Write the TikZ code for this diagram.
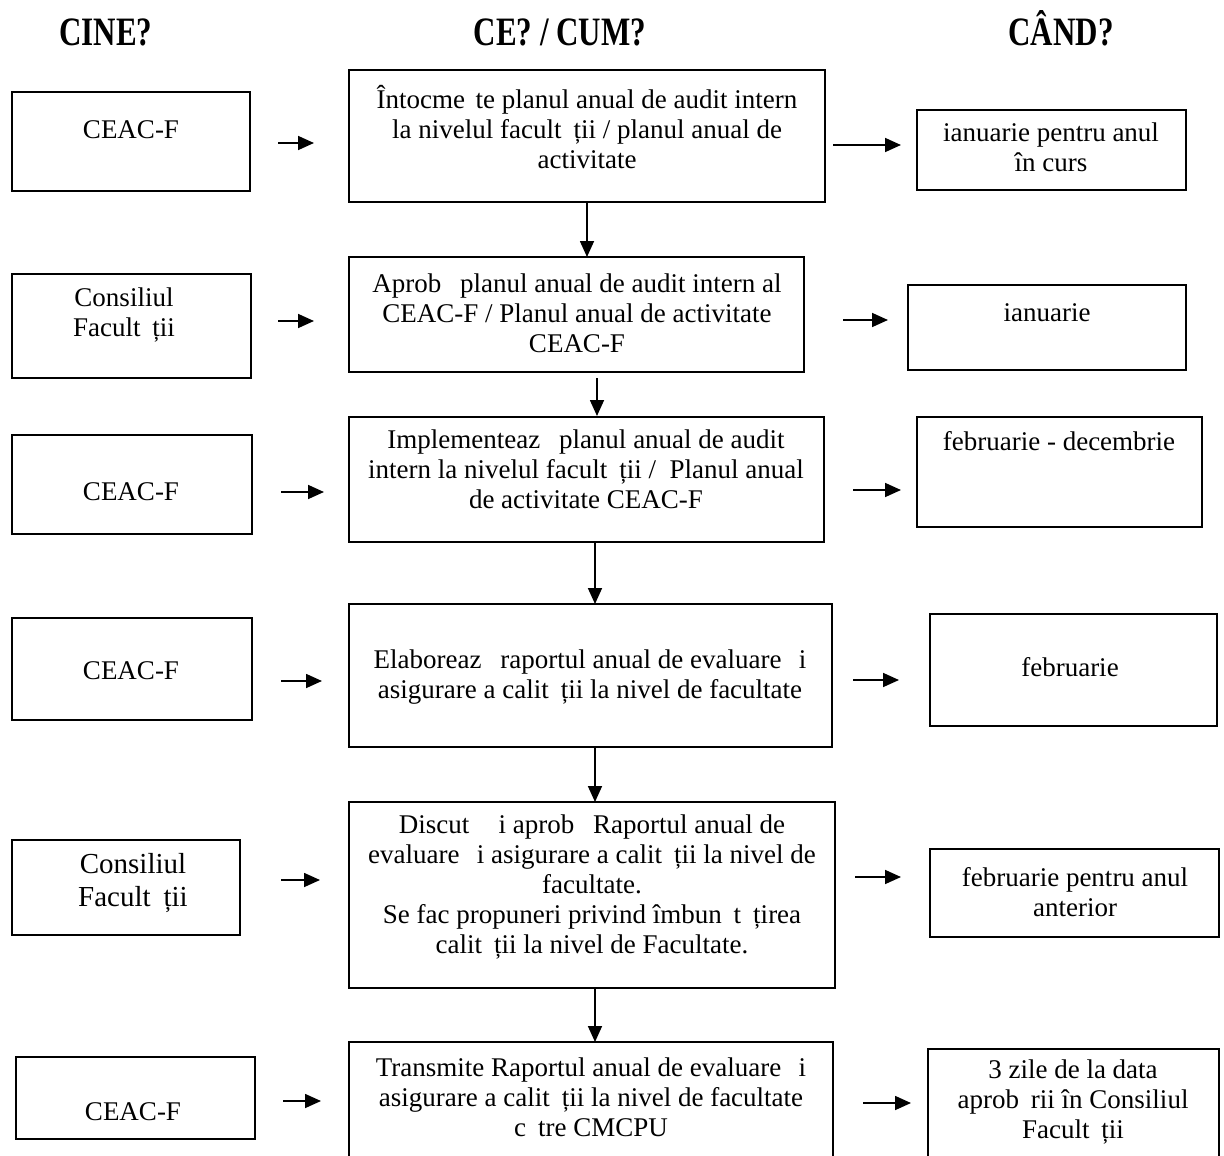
\documentclass[tikz,border=0pt]{standalone}
\usepackage{fontspec}
\setmainfont{Liberation Serif}
\usetikzlibrary{arrows.meta}
\newcommand\mybx[5]{\node[boxst, minimum width={(#4-#2)*1pt}, minimum height={(#5-#3)*1pt}] (#1) at ({(#2+#4)/2},{(#3+#5)/2}) {};}
\newcommand\gA{\phantom{ă}}
\newcommand\gS{\phantom{ş}}
\tikzset{
  boxst/.style={draw, line width=1.7pt, inner sep=0pt, outer sep=0pt},
  txt/.style={font=\fontsize{27}{30}\selectfont, align=center, inner sep=0pt},
  txtb/.style={font=\fontsize{29}{33}\selectfont, align=center, inner sep=0pt},
  head/.style={font=\fontsize{31}{34}\selectfont\bfseries, inner sep=0pt, anchor=base},
  arr/.style={line width=1.7pt, -{Triangle[length=16pt,width=14pt]}}
}
\begin{document}
\begin{tikzpicture}[x=1pt,y=-1pt]
\useasboundingbox (0,0) rectangle (1224,1156);
\clip (0,0) rectangle (1224,1156);
% headings
\node[head] (h1) at (106,46) {\scalebox{1}[1.3]{CINE?}};
\node[head] (h2) at (560,46) {\scalebox{1}[1.3]{CE? / CUM?}};
\node[head] (h3) at (1061,46) {\scalebox{1}[1.3]{CÂND?}};
% boxes
\mybx{l1}{12}{92}{250}{191}
\mybx{c1}{349}{70}{825}{202}
\mybx{r1}{917}{110}{1186}{190}
\mybx{l2}{12}{274}{251}{378}
\mybx{c2}{349}{257}{804}{372}
\mybx{r2}{908}{285}{1186}{370}
\mybx{l3}{12}{435}{252}{534}
\mybx{c3}{349}{417}{824}{542}
\mybx{r3}{917}{417}{1202}{527}
\mybx{l4}{12}{618}{252}{720}
\mybx{c4}{349}{604}{832}{747}
\mybx{r4}{930}{614}{1217}{726}
\mybx{l5}{12}{840}{240}{935}
\mybx{c5}{349}{802}{835}{988}
\mybx{r5}{930}{849}{1219}{937}
\mybx{l6}{16}{1057}{255}{1139}
\mybx{c6}{349}{1042}{833}{1180}
\mybx{r6}{928}{1049}{1219}{1180}
% texts
\node[txt] (tl1) at (131,130) {CEAC-F};
\node[txt] (tc1) at (587,127) {Întocme\gS te planul anual de audit intern\\la nivelul facult\gA ții / planul anual de\\activitate};
\node[txt] (tr1) at (1051,147) {ianuarie pentru anul\\în curs};
\node[txt] (tl2) at (124,315) {Consiliul\\Facult\gA ții};
\node[txt] (tc2) at (577,313) {Aprob\gA\ planul anual de audit intern al\\CEAC-F / Planul anual de activitate\\CEAC-F};
\node[txt] (tr2) at (1047,313) {ianuarie};
\node[txt] (tl3) at (131,492) {CEAC-F};
\node[txt] (tc3) at (586,469) {Implementeaz\gA\ planul anual de audit\\intern la nivelul facult\gA ții /\ \ Planul anual\\de activitate CEAC-F};
\node[txt] (tr3) at (1059,441) {februarie - decembrie};
\node[txt] (tl4) at (131,671) {CEAC-F};
\node[txt] (tc4) at (590,677) {Elaboreaz\gA\ raportul anual de evaluare \gS i\\asigurare a calit\gA ții la nivel de facultate};
\node[txt] (tr4) at (1070,667) {februarie};
\node[txtb] (tl5) at (133,883) {Consiliul\\Facult\gA ții};
\node[txt] (tc5) at (592,887) {Discut\gA\ \gS i aprob\gA\ Raportul anual de\\evaluare \gS i asigurare a calit\gA ții la nivel de\\facultate.\\Se fac propuneri privind îmbun\gA t\gA țirea\\calit\gA ții la nivel de Facultate.};
\node[txt] (tr5) at (1075,892) {februarie pentru anul\\anterior};
\node[txt] (tl6) at (133,1112) {CEAC-F};
\node[txt] (tc6) at (591,1097) {Transmite Raportul anual de evaluare \gS i\\asigurare a calit\gA ții la nivel de facultate\\c\gA tre CMCPU};
\node[txt] (tr6) at (1073,1102) {3 zile de la data\\aprob\gA rii în Consiliul\\Facult\gA ții};
% arrow end coordinates
\coordinate (a1s) at (278,143); \coordinate (a1e) at (314,143);
\coordinate (b1s) at (833,145); \coordinate (b1e) at (901,145);
\coordinate (a2s) at (278,321); \coordinate (a2e) at (314,321);
\coordinate (b2s) at (843,320); \coordinate (b2e) at (888,320);
\coordinate (a3s) at (281,492); \coordinate (a3e) at (324,492);
\coordinate (b3s) at (853,490); \coordinate (b3e) at (901,490);
\coordinate (a4s) at (281,681); \coordinate (a4e) at (322,681);
\coordinate (b4s) at (853,680); \coordinate (b4e) at (899,680);
\coordinate (a5s) at (281,880); \coordinate (a5e) at (320,880);
\coordinate (b5s) at (855,877); \coordinate (b5e) at (901,877);
\coordinate (a6s) at (283,1101); \coordinate (a6e) at (321,1101);
\coordinate (b6s) at (863,1103); \coordinate (b6e) at (911,1103);
\foreach \n in {1,...,6}{
  \draw[arr] (a\n s) -- (a\n e);
  \draw[arr] (b\n s) -- (b\n e);
}
% vertical arrows
\draw[arr] (c1.south -| 587,0) -- (c2.north -| 587,0);
\coordinate (d2s) at (597,378); \coordinate (d2e) at (597,416);
\draw[arr] (d2s) -- (d2e);
\draw[arr] (c3.south -| 595,0) -- (c4.north -| 595,0);
\draw[arr] (c4.south -| 595,0) -- (c5.north -| 595,0);
\draw[arr] (c5.south -| 595,0) -- (c6.north -| 595,0);
\end{tikzpicture}
\end{document}
